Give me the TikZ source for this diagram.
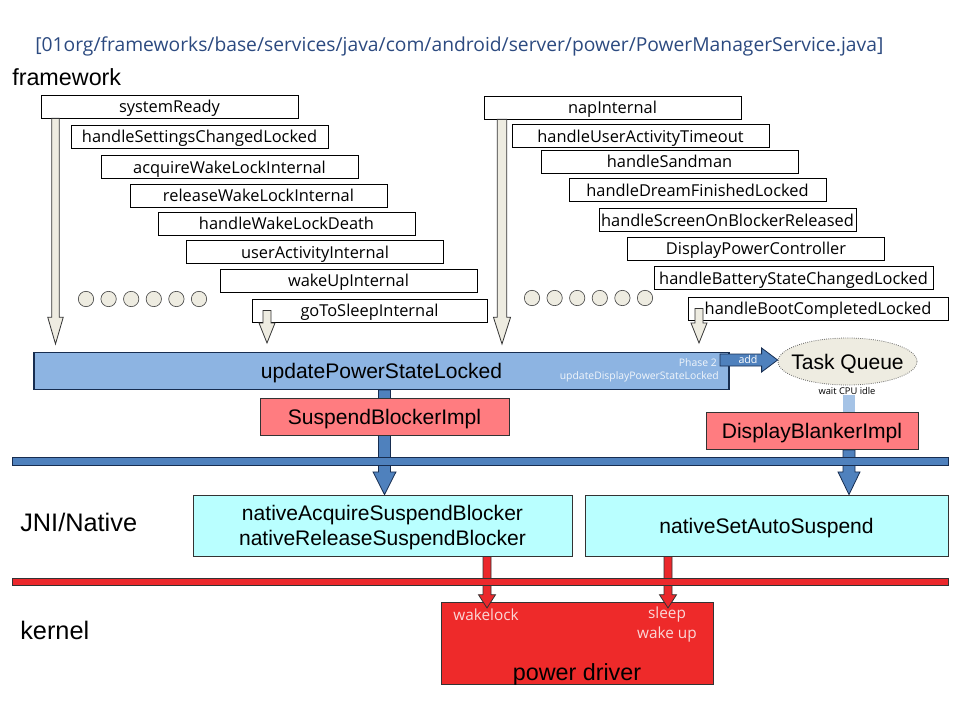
\documentclass[tikz,border=0pt]{standalone}
\usepackage{fontspec}
\setmainfont{Liberation Sans}
\newfontfamily\uifont{Open Sans}
\usetikzlibrary{calc,shapes.geometric,backgrounds}

\definecolor{titleBlue}{RGB}{44,74,128}
\definecolor{barBlue}{RGB}{141,180,226}
\definecolor{darkBlue}{RGB}{79,129,189}
\definecolor{navy}{RGB}{23,45,80}
\definecolor{salmon}{RGB}{255,124,128}
\definecolor{cyanBox}{RGB}{185,255,255}
\definecolor{redLine}{RGB}{235,40,44}
\definecolor{driverRed}{RGB}{238,42,42}
\definecolor{paleGray}{RGB}{238,236,225}
\definecolor{pinkText}{RGB}{250,215,215}
\definecolor{lightShaft}{RGB}{165,195,230}

\tikzset{
  call/.style={draw=black, line width=0.6pt, fill=white, minimum width=192.75pt,
    minimum height=17.25pt, inner sep=0pt, text depth=0pt, font=\uifont\fontsize{12.3}{14}\selectfont},
  dot/.style={circle, draw=black!70, fill=paleGray, line width=0.5pt,
    minimum size=11.5pt, inner sep=0pt},
  hollow/.style={draw=black!80, fill=paleGray, line width=0.6pt},
  blueArrow/.style={draw=navy, fill=darkBlue, line width=0.6pt},
  redArrow/.style={draw=black!80, fill=redLine, line width=0.6pt},
  layer/.style={anchor=west, inner sep=0pt, text depth=0pt, font=\fontsize{19}{22}\selectfont},
  impl/.style={draw=black!80, fill=salmon, line width=0.6pt, inner sep=0pt, text depth=0pt,
    minimum height=27.75pt, font=\fontsize{15.8}{18}\selectfont},
  native/.style={draw=black!80, fill=cyanBox, line width=0.6pt, inner sep=0pt, text depth=0pt,
    minimum height=45.75pt, align=center, font=\fontsize{15.8}{18.75}\selectfont},
  phase/.style={anchor=east, inner sep=0pt, text=white!88!barBlue,
    font=\uifont\fontsize{7.8}{9}\selectfont},
  driverText/.style={inner sep=0pt, text=pinkText, align=center,
    font=\uifont\fontsize{11.5}{15}\selectfont},
  block down/.style n args={3}{to path={
    let \p1=(\tikztostart), \p2=(\tikztotarget) in
    (\x1-#1,\y1) -- (\x1+#1,\y1) -- (\x1+#1,\y2+#3) -- (\x1+#2,\y2+#3)
    -- (\x1,\y2) -- (\x1-#2,\y2+#3) -- (\x1-#1,\y2+#3) -- cycle}},
  block right/.style n args={3}{to path={
    let \p1=(\tikztostart), \p2=(\tikztotarget) in
    (\x1,\y1-#1) -- (\x2-#3,\y1-#1) -- (\x2-#3,\y1-#2) -- (\x2,\y1)
    -- (\x2-#3,\y1+#2) -- (\x2-#3,\y1+#1) -- (\x1,\y1+#1) -- cycle}},
}

\begin{document}
\begin{tikzpicture}[x=0.75pt, y=-0.75pt]
    \useasboundingbox (0,0) rectangle (960,720);

    % Title and layer names
    \node[anchor=west, inner sep=0pt, text depth=0pt, text=titleBlue, font=\uifont\fontsize{14.45}{16}\selectfont]
      (srcPath) at (35,44) {[01org/frameworks/base/services/java/com/android/server/power/PowerManagerService.java]};
    \node[layer, font=\fontsize{17.5}{20}\selectfont] (fwLbl) at (12,77) {framework};
    \node[layer] (jniLbl) at (20,522) {JNI/Native};
    \node[layer] (kernelLbl) at (20,630) {kernel};

    % Left call stack
    \node[call] (sysReady) at (169.5,106.5) {systemReady};
    \node[call] (settings) at (199.5,136.5) {handleSettingsChangedLocked};
    \node[call] (acqLock) at (229.5,167) {acquireWakeLockInternal};
    \node[call] (relLock) at (258.5,195.5) {releaseWakeLockInternal};
    \node[call] (lockDeath) at (286.5,223.5) {handleWakeLockDeath};
    \node[call] (userAct) at (315,252) {userActivityInternal};
    \node[call] (wakeUp) at (348.5,280.5) {wakeUpInternal};
    \node[call, minimum width=176.25pt] (goSleep) at (369.5,310.5) {goToSleepInternal};

    % Right call stack
    \node[call] (napInt) at (612.5,107.5) {napInternal};
    \node[call] (actTimeout) at (640.5,136) {handleUserActivityTimeout};
    \node[call] (sandman) at (669.5,161.5) {handleSandman};
    \node[call] (dreamDone) at (697.5,190) {handleDreamFinishedLocked};
    \node[call] (screenOn) at (727.5,220) {handleScreenOnBlockerReleased};
    \node[call] (dpc) at (756,248.5) {DisplayPowerController};
    \node[call, minimum width=209.25pt] (battery) at (793.5,278) {handleBatteryStateChangedLocked};
    \node[call, minimum width=195pt] (bootDone) at (818,308.5) {handleBootCompletedLocked};

    % More callers
    \foreach \i in {0,...,5} {
      \node[dot] (ldot\i) at (86+22.6*\i,299) {};
      \node[dot] (rdot\i) at (532+22.6*\i,298) {};
    }

    % Hollow arrows into updatePowerStateLocked
    \coordinate (tipA) at (55.5,344);
    \coordinate (tipB) at (502,344);
    \coordinate (tipC) at (267,343);
    \coordinate (tipD) at (699,343);
    \draw[hollow, block down={2.8pt}{5.8pt}{20pt}] (sysReady.south -| tipA) to (tipA);
    \draw[hollow, block down={3.5pt}{6.4pt}{20pt}] (napInt.south -| tipB) to (tipB);
    \draw[hollow, block down={3pt}{6pt}{15pt}] (goSleep.center -| tipC) to (tipC);
    \draw[hollow, block down={3pt}{6pt}{15pt}] (bootDone.center -| tipD) to (tipD);

    % updatePowerStateLocked
    \node[draw=navy, fill=barBlue, line width=0.8pt, minimum width=521.25pt, minimum height=27.75pt,
      inner sep=0pt, text depth=0pt, font=\fontsize{15.8}{18}\selectfont] (update) at (381.5,371) {updatePowerStateLocked};
    \node[phase] (phaseNum) at (717,363) {Phase 2};
    \node[phase] (phaseFn) at (719,377) {updateDisplayPowerStateLocked};

    % Task queue
    \node[ellipse, draw=black!60, densely dotted, line width=0.6pt, fill=paleGray, minimum width=104.25pt,
      minimum height=35.25pt, inner xsep=-6.5pt, inner ysep=0pt, text depth=0pt,
      font=\fontsize{15.8}{18}\selectfont] (taskQ) at (847.5,361.5) {Task Queue};
    \coordinate (addStart) at (720,360);
    \draw[blueArrow, block right={4.5pt}{9pt}{12pt}] (addStart) to (taskQ.west);
    \node[inner sep=0pt, text=white, font=\uifont\fontsize{8}{9}\selectfont] (addLbl) at (748,359) {add};
    \node[inner sep=0pt, font=\uifont\fontsize{7}{8}\selectfont] (waitIdle) at (847,391) {wait CPU idle};

    % Impl boxes
    \node[impl, minimum width=186.75pt] (suspendImpl) at (384.5,416.5) {SuspendBlockerImpl};
    \node[impl, minimum width=159pt] (dispImpl) at (812,431) {DisplayBlankerImpl};

    % Native boxes
    \node[native, minimum width=284.25pt] (nativeAcq) at (382.5,525.5) {nativeAcquireSuspendBlocker\\nativeReleaseSuspendBlocker};
    \node[native, minimum width=272.25pt] (nativeSet) at (766.5,525.5) {nativeSetAutoSuspend};

    % Blue arrows down to JNI
    \coordinate (qDrop) at (849,395);
    \begin{scope}[on background layer]
      \draw[blueArrow, block down={4.5pt}{8.6pt}{17pt}] (update.south -| suspendImpl) to (nativeAcq.north -| suspendImpl);
      \fill[lightShaft] ($(qDrop)+(-4.5pt,0)$) rectangle ($(qDrop |- dispImpl.north)+(4.5pt,0)$);
      \draw[blueArrow, block down={4.5pt}{8.25pt}{17pt}] (dispImpl.south -| qDrop) to (nativeSet.north -| qDrop);
    \end{scope}

    % Java / JNI border
    \node[draw=navy, fill=darkBlue, line width=0.6pt, minimum width=702pt, minimum height=6pt,
      inner sep=0pt] (javaLine) at (480,461) {};

    % Kernel driver
    \node[draw=black!80, fill=driverRed, line width=0.6pt, minimum width=204pt, minimum height=61.5pt,
      inner sep=0pt] (powerDrv) at (577,643) {};
    \node[inner sep=0pt, text depth=0pt, font=\fontsize{17.5}{20}\selectfont] (drvName) at (577,672) {power driver};
    \node[driverText] (wakeLbl) at (486,615) {wakelock};
    \node[driverText] (sleepLbl) at (667,625) {sleep\\wake up};

    % Red arrows down to kernel
    \coordinate (wakeDrop) at (487,608);
    \coordinate (sleepDrop) at (668,608);
    \draw[redArrow, block down={3pt}{6.4pt}{10pt}] (nativeAcq.south -| wakeDrop) to (wakeDrop);
    \draw[redArrow, block down={3pt}{6.4pt}{10pt}] (nativeSet.south -| sleepDrop) to (sleepDrop);

    % JNI / kernel border
    \node[draw=black!80, fill=redLine, line width=0.6pt, minimum width=702pt, minimum height=5.25pt,
      inner sep=0pt] (kernelLine) at (480,581.5) {};
\end{tikzpicture}
\end{document}
